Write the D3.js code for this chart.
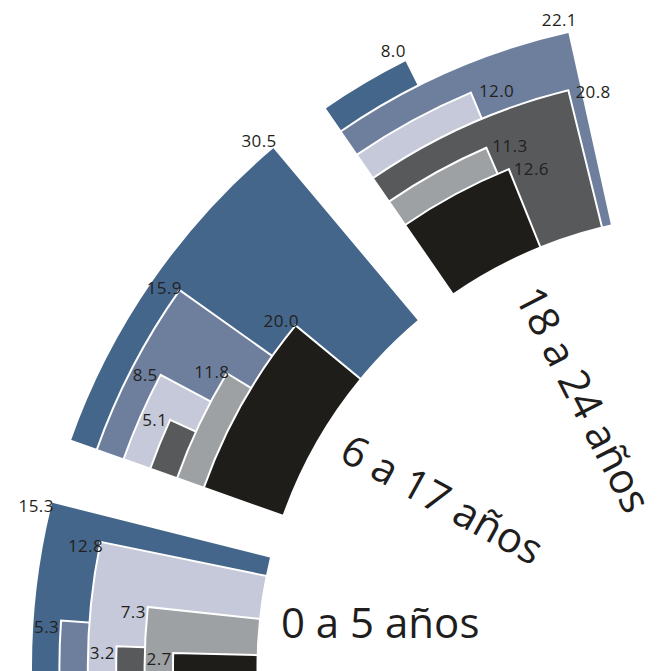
<!DOCTYPE html>
<html>
<head>
<meta charset="utf-8">
<script src="https://cdn.jsdelivr.net/npm/d3@7"></script>
<style>
  html, body { margin: 0; padding: 0; background: #ffffff; }
  svg { display: block; }
</style>
</head>
<body>
<svg id="chart" width="664" height="671"></svg>
<script>
// Age groups, drawn as wedges around a common centre
const ageGroups = ["0 a 5 años", "6 a 17 años", "18 a 24 años"];

// One array per series, one value per age group (outermost ring first)
const series1 = [15.3, 30.5, 8.0];
const series2 = [5.3, 15.9, 22.1];
const series3 = [12.8, 8.5, 12.0];
const series4 = [3.2, 5.1, 20.8];
const series5 = [7.3, 11.8, 11.3];
const series6 = [2.7, 20.0, 12.6];

const allSeries = [series1, series2, series3, series4, series5, series6];
const seriesColors = ["#44668b", "#6e7f9e", "#c6c9d9", "#58595b", "#9ea1a3", "#1e1d1a"];

// ---- layout ----
const width = 664, height = 671;
const cx = 710, cy = 667;          // centre of the rings (just off the canvas)
const innerRadius = 452.5;
const groupGap = 5.4;              // angular gap between age groups, in value units (degrees)
const firstStart = -1.2;

// value units -> radians (1 unit = 1 degree, sweeping clockwise from due west)
const angle = d3.scaleLinear().domain([0, 90]).range([-Math.PI / 2, 0]);
// series index -> outer radius of its ring
const outerRadius = d3.scalePoint().domain(d3.range(allSeries.length)).range([679, 537]);

// start of each group = previous start + longest bar of previous group + gap
const groupStart = [];
ageGroups.forEach((g, j) => {
  if (j === 0) groupStart.push(firstStart);
  else groupStart.push(groupStart[j - 1] + d3.max(allSeries, s => s[j - 1]) + groupGap);
});

const svg = d3.select("#chart");
const root = svg.append("g").attr("transform", `translate(${cx},${cy})`);

const arc = d3.arc();
const polar = (units, r) => {
  const a = angle(units);
  return [r * Math.sin(a), -r * Math.cos(a)];
};

// bars
const bars = [];
ageGroups.forEach((g, j) => {
  allSeries.forEach((s, i) => {
    bars.push({ group: j, series: i, value: s[j], start: groupStart[j] });
  });
});

root.append("g").selectAll("path")
  .data(bars)
  .join("path")
  .attr("d", d => arc({
    innerRadius: innerRadius,
    outerRadius: outerRadius(d.series),
    startAngle: angle(d.start),
    endAngle: angle(d.start + d.value)
  }))
  .attr("fill", d => seriesColors[d.series])
  .attr("stroke", "#ffffff")
  .attr("stroke-width", 2)
  .attr("stroke-linejoin", "miter");

// value labels: outside the outer corner, or just past the bar end for the inner rings of the last group
const fmt = d3.format(".1f");
const pastEnd = d => d.group === 2 && d.series >= 2;

root.append("g").selectAll("text")
  .data(bars)
  .join("text")
  .attr("transform", d => {
    const end = d.start + d.value;
    const r = outerRadius(d.series);
    const p = pastEnd(d) ? polar(end + 2.3, r - 7) : polar(end - 0.6, r + 14);
    return `translate(${p[0]},${p[1]})`;
  })
  .attr("text-anchor", "middle")
  .attr("dominant-baseline", "central")
  .attr("font-family", "'Open Sans', sans-serif")
  .attr("font-size", 17)
  .attr("letter-spacing", 0.4)
  .attr("fill", "#231f20")
  .text(d => fmt(d.value));

// age group titles, set along each wedge
const titlePlacement = [
  { offset: 9.1, r: 333, rotate: 0 },
  { offset: 12.8, r: 316, rotate: 28.8 },
  { offset: 9.6, r: 296, rotate: 63 }
];

root.append("g").selectAll("text")
  .data(ageGroups)
  .join("text")
  .attr("transform", (g, j) => {
    const t = titlePlacement[j];
    const p = polar(groupStart[j] + t.offset, t.r);
    return `translate(${p[0]},${p[1]}) rotate(${t.rotate})`;
  })
  .attr("text-anchor", "middle")
  .attr("dominant-baseline", "central")
  .attr("font-family", "'Open Sans', sans-serif")
  .attr("font-size", 42)
  .attr("fill", "#1f1e1d")
  .text(g => g);
</script>
</body>
</html>
